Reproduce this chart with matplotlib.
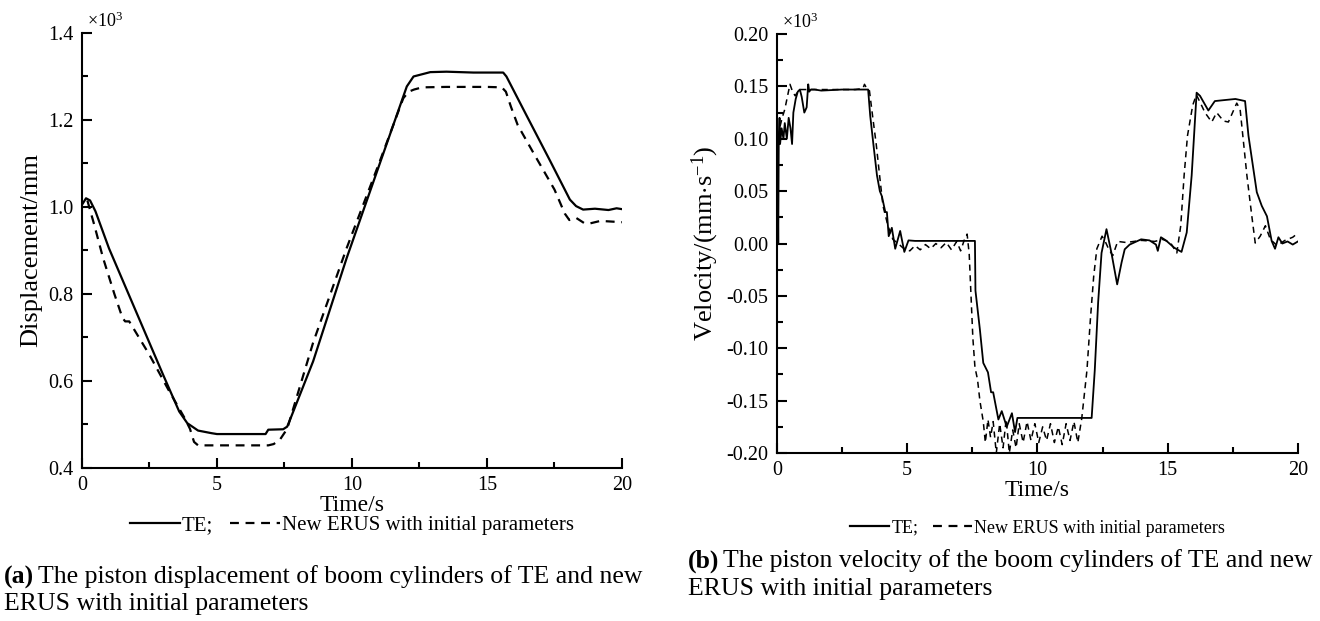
import matplotlib
matplotlib.use("Agg")
import matplotlib.pyplot as plt
from matplotlib.lines import Line2D
from matplotlib.ticker import MultipleLocator, FormatStrFormatter

# ---------------------------- Data --------------------------------------------
# (a) piston displacement (x10^3 mm)
t_te_disp = [0.0, 0.15, 0.3, 0.5, 1.0, 2.0, 3.0, 3.6, 3.9, 4.3, 4.8, 5.0, 6.8, 6.9,
             7.45, 7.6, 7.7, 8.56, 9.8, 12.03, 12.28, 12.9, 13.5, 14.5, 15.6, 15.72,
             16.46, 17.33, 18.07, 18.3, 18.56, 19.0, 19.5, 19.8, 20.0]
te_disp = [1.005, 1.02, 1.015, 0.99, 0.905, 0.76, 0.615, 0.53, 0.503, 0.486, 0.48,
           0.478, 0.478, 0.488, 0.489, 0.495, 0.51, 0.645, 0.882, 1.277, 1.30, 1.31,
           1.311, 1.309, 1.309, 1.30, 1.211, 1.107, 1.017, 1.002, 0.994, 0.996,
           0.993, 0.997, 0.995]

t_erus_disp = [0.2, 0.45, 0.78, 1.2, 1.5, 1.6, 1.75, 2.5, 3.2, 3.8, 4.0, 4.15, 4.3,
               5.0, 6.9, 7.1, 7.33, 7.6, 8.56, 9.8, 11.0, 11.9, 12.1, 12.3, 12.6,
               13.5, 15.0, 15.55, 15.7, 15.89, 16.14, 16.76, 17.5, 17.88, 18.05,
               18.3, 18.6, 18.8, 19.2, 20.0]
erus_disp = [1.015, 0.96, 0.883, 0.8, 0.745, 0.737, 0.737, 0.66, 0.58, 0.515, 0.49,
             0.46, 0.452, 0.452, 0.452, 0.455, 0.465, 0.49, 0.688, 0.905, 1.1, 1.25,
             1.265, 1.27, 1.275, 1.276, 1.276, 1.275, 1.265, 1.23, 1.188, 1.12,
             1.04, 0.985, 0.97, 0.975, 0.963, 0.962, 0.968, 0.965]

# (b) piston velocity (x10^3 mm/s)
t_te_vel = [0.0, 0.03, 0.05, 0.07, 0.1, 0.12, 0.18, 0.25, 0.3, 0.38, 0.45, 0.52,
            0.58, 0.63, 0.72, 0.8, 0.88, 0.95, 1.05, 1.14, 1.2, 1.24, 1.3, 1.45,
            1.7, 2.5, 3.0, 3.5, 3.58, 3.71, 3.84, 3.95, 4.03, 4.16, 4.22, 4.29,
            4.41, 4.54, 4.73, 4.89, 5.05, 5.3, 7.6, 7.62, 7.79, 7.92, 8.1, 8.22,
            8.3, 8.5, 8.63, 8.82, 9.02, 9.14, 9.23, 12.08, 12.2, 12.33, 12.46,
            12.65, 12.84, 13.06, 13.23, 13.35, 13.54, 13.98, 14.3, 14.55, 14.62,
            14.74, 14.93, 15.25, 15.53, 15.73, 15.92, 16.05, 16.11, 16.24, 16.56,
            16.81, 17.2, 17.6, 17.97, 18.1, 18.23, 18.42, 18.61, 18.81, 18.99,
            19.12, 19.25, 19.4, 19.6, 19.8, 20.0]
te_vel = [0.0, 0.06, 0.0, 0.1, 0.12, 0.095, 0.11, 0.1, 0.115, 0.1, 0.12, 0.11,
          0.095, 0.125, 0.138, 0.145, 0.147, 0.14, 0.125, 0.13, 0.152, 0.145,
          0.147, 0.147, 0.146, 0.147, 0.147, 0.147, 0.122, 0.093, 0.065, 0.05,
          0.045, 0.03, 0.03, 0.007, 0.015, -0.005, 0.012, -0.008, 0.003, 0.0025,
          0.0025, -0.045, -0.082, -0.114, -0.123, -0.142, -0.142, -0.168, -0.160,
          -0.175, -0.162, -0.180, -0.1665, -0.1665, -0.121, -0.056, -0.009,
          0.0137, -0.009, -0.039, -0.018, -0.0055, -0.001, 0.004, 0.003, -0.001,
          -0.007, 0.006, 0.003, -0.004, -0.008, 0.0105, 0.065, 0.119, 0.144,
          0.141, 0.127, 0.136, 0.137, 0.138, 0.136, 0.103, 0.081, 0.049, 0.036,
          0.026, 0.0025, -0.005, 0.006, 0.0, 0.002, -0.001, 0.002]

t_erus_vel = [0.0, 0.04, 0.1, 0.2, 0.3, 0.4, 0.5, 0.6, 0.7, 0.85, 1.2, 2.0, 3.0,
              3.3, 3.36, 3.45, 3.55, 3.68, 3.81, 3.94, 4.07, 4.26, 4.45, 4.65,
              4.83, 5.1, 5.3, 5.5, 5.7, 5.9, 6.1, 6.3, 6.5, 6.7, 6.9, 7.05, 7.2,
              7.3, 7.38, 7.45, 7.52, 7.6, 7.7, 7.79, 7.92, 8.0, 8.1, 8.2, 8.3,
              8.42, 8.55, 8.68, 8.8, 8.92, 9.05, 9.18, 9.3, 9.45, 9.6, 9.75, 9.9,
              10.05, 10.2, 10.35, 10.5, 10.65, 10.8, 10.95, 11.1, 11.25, 11.4,
              11.55, 11.7, 11.9, 12.03, 12.16, 12.28, 12.48, 12.6, 12.73, 12.89,
              13.08, 13.4, 14.0, 14.5, 14.8, 15.1, 15.35, 15.5, 15.63, 15.76,
              15.96, 16.1, 16.24, 16.43, 16.69, 16.88, 17.14, 17.33, 17.65, 17.78,
              17.91, 18.04, 18.23, 18.36, 18.55, 18.75, 18.94, 19.2, 19.5, 19.8, 20.0]
erus_vel = [0.0, 0.09, 0.11, 0.12, 0.128, 0.14, 0.152, 0.145, 0.141, 0.147, 0.147,
            0.147, 0.147, 0.148, 0.152, 0.148, 0.146, 0.12, 0.095, 0.065, 0.036,
            0.017, 0.004, 0.0, -0.004, -0.007, -0.002, -0.006, -0.001, -0.005,
            0.0, -0.004, 0.001, -0.006, 0.002, -0.007, 0.004, 0.009, -0.01, -0.05,
            -0.09, -0.118, -0.13, -0.15, -0.17, -0.19, -0.168, -0.185, -0.17,
            -0.2, -0.172, -0.195, -0.168, -0.2, -0.178, -0.195, -0.172, -0.19,
            -0.17, -0.188, -0.172, -0.19, -0.175, -0.188, -0.172, -0.19, -0.175,
            -0.192, -0.172, -0.188, -0.17, -0.19, -0.167, -0.121, -0.073, -0.031,
            -0.005, 0.007, 0.002, -0.005, -0.0115, 0.002, 0.001, 0.003, 0.002,
            0.004, 0.001, -0.009, 0.017, 0.065, 0.103, 0.132, 0.142, 0.135, 0.125,
            0.116, 0.125, 0.117, 0.116, 0.134, 0.128, 0.0966, 0.065, 0.026,
            0.0005, 0.007, 0.017, 0.004, -0.002, 0.003, 0.006, 0.01]

# ---------------------------- Style -------------------------------------------
plt.rcParams["font.family"] = ["Liberation Serif", "DejaVu Serif"]
plt.rcParams["mathtext.fontset"] = "custom"
plt.rcParams["mathtext.rm"] = "Liberation Serif"
plt.rcParams["mathtext.it"] = "Liberation Serif:italic"
plt.rcParams["axes.unicode_minus"] = False

fig = plt.figure(figsize=(13.2, 6.21), dpi=100)
ax1 = fig.add_axes([0.0621, 0.2464, 0.4091, 0.7005])
ax2 = fig.add_axes([0.5886, 0.2705, 0.3947, 0.6747])

DASH = (0, (4, 3))


def style_axes(ax):
    for side in ("top", "right"):
        ax.spines[side].set_visible(False)
    for side in ("left", "bottom"):
        ax.spines[side].set_linewidth(1.5)
    ax.tick_params(which="both", direction="in", width=1.5, labelsize=14.5, pad=6)
    ax.tick_params(which="major", length=7)
    ax.tick_params(which="minor", length=4)
    ax.set_xlim(0, 20)
    ax.xaxis.set_major_locator(MultipleLocator(5))
    ax.xaxis.set_minor_locator(MultipleLocator(2.5))
    ax.set_xlabel("Time/s", fontsize=17, labelpad=0)
    ax.text(0.01, 1.005, r"$\times10^3$", transform=ax.transAxes,
            ha="left", va="bottom", fontsize=13)


# ---- (a) displacement --------------------------------------------------------
ax1.plot(t_te_disp, te_disp, color="black", lw=1.6)
ax1.plot(t_erus_disp, erus_disp, color="black", lw=1.6, ls=DASH)
style_axes(ax1)
ax1.set_ylim(0.4, 1.4)
ax1.yaxis.set_major_locator(MultipleLocator(0.2))
ax1.yaxis.set_minor_locator(MultipleLocator(0.1))
ax1.yaxis.set_major_formatter(FormatStrFormatter("%.1f"))
ax1.set_ylabel("Displacement/mm", fontsize=19, labelpad=4)

# ---- (b) velocity ------------------------------------------------------------
ax2.plot(t_te_vel, te_vel, color="black", lw=1.3)
ax2.plot(t_erus_vel, erus_vel, color="black", lw=1.1, ls=DASH)
style_axes(ax2)
ax2.set_ylim(-0.2, 0.2)
ax2.yaxis.set_major_locator(MultipleLocator(0.05))
ax2.yaxis.set_minor_locator(MultipleLocator(0.025))
ax2.yaxis.set_major_formatter(FormatStrFormatter("%.2f"))
ax2.set_ylabel(r"Velocity/(mm$\cdot$s$^{\mathrm{-1}}$)", fontsize=19, labelpad=4)

# ---- legends -----------------------------------------------------------------
handles = [Line2D([], [], color="black", lw=1.6),
           Line2D([], [], color="black", lw=1.6, ls=DASH)]
labels = ["TE;", "New ERUS with initial parameters"]
ax1.legend(handles, labels, ncol=2, loc="center", bbox_to_anchor=(0.5, -0.132),
           frameon=False, fontsize=15, handlelength=2.4, handletextpad=0.1,
           columnspacing=0.8)
ax2.legend(handles, labels, ncol=2, loc="center", bbox_to_anchor=(0.5, -0.179),
           frameon=False, fontsize=13, handlelength=2.2, handletextpad=0.1,
           columnspacing=0.8)

# ---- captions ----------------------------------------------------------------
fig.canvas.draw()
renderer = fig.canvas.get_renderer()


def caption(x_px, y1_px, y2_px, tag, line1, line2):
    fx = x_px / 1320
    b = fig.text(fx, 1 - y1_px / 621, tag, fontsize=18.5, fontweight="bold",
                 va="center", ha="left")
    w = b.get_window_extent(renderer).width
    fig.text(fx + (w + 4) / 1320, 1 - y1_px / 621, line1, fontsize=18.5,
             va="center", ha="left")
    fig.text(fx, 1 - y2_px / 621, line2, fontsize=18.5, va="center", ha="left")


caption(4, 577, 604, "(a)",
        "The piston displacement of boom cylinders of TE and new",
        "ERUS with initial parameters")
caption(688, 561, 589, "(b)",
        "The piston velocity of the boom cylinders of TE and new",
        "ERUS with initial parameters")

fig.savefig("out.png", dpi=100)
